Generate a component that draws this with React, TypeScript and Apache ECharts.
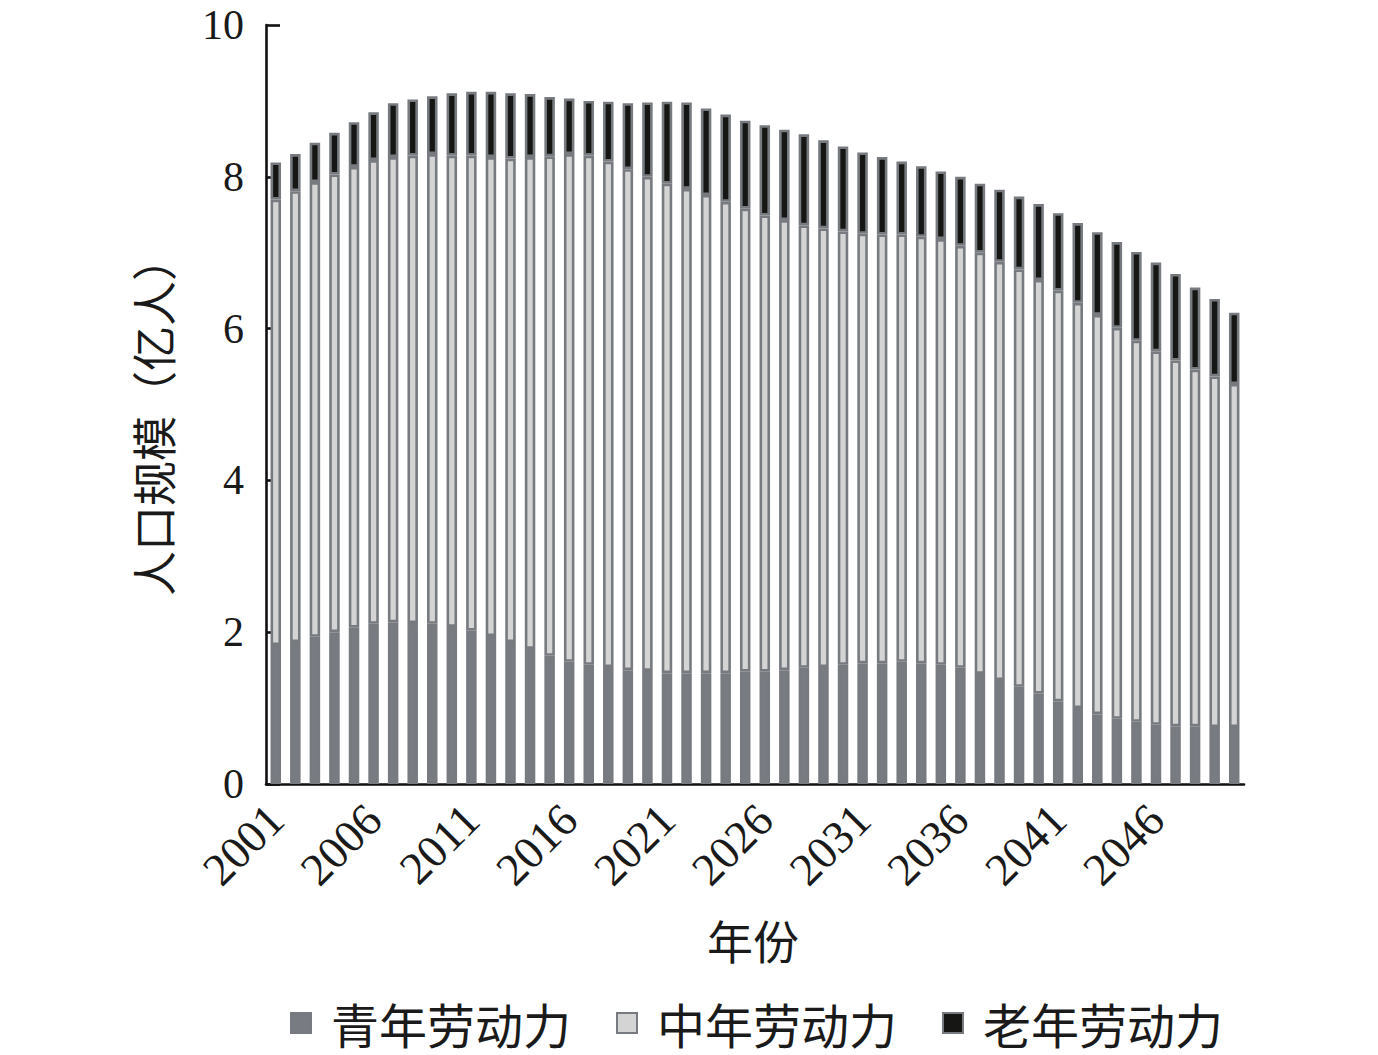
import React, { useEffect, useRef } from "react";
import * as echarts from "echarts";

const years: string[] = [];
for (let y = 2001; y <= 2050; y++) years.push(String(y));

const youth = [
  1.83, 1.87, 1.94, 2.0, 2.06, 2.11, 2.13, 2.12, 2.11, 2.07,
  2.02, 1.95, 1.87, 1.78, 1.69, 1.61, 1.57, 1.54, 1.5, 1.49,
  1.46, 1.46, 1.46, 1.46, 1.48, 1.48, 1.5, 1.53, 1.54, 1.57,
  1.59, 1.59, 1.61, 1.59, 1.57, 1.53, 1.45, 1.37, 1.28, 1.19,
  1.09, 1.0, 0.92, 0.86, 0.82, 0.78, 0.76, 0.76, 0.75, 0.75,
];
const middle = [
  5.87, 5.94, 5.99, 6.03, 6.07, 6.11, 6.13, 6.16, 6.19, 6.21,
  6.26, 6.31, 6.37, 6.48, 6.58, 6.69, 6.71, 6.66, 6.6, 6.51,
  6.45, 6.38, 6.3, 6.21, 6.1, 6.01, 5.93, 5.83, 5.78, 5.71,
  5.66, 5.65, 5.63, 5.62, 5.61, 5.56, 5.55, 5.51, 5.5, 5.45,
  5.41, 5.34, 5.26, 5.15, 5.02, 4.92, 4.82, 4.7, 4.62, 4.52,
];
const old = [
  0.49, 0.49, 0.52, 0.55, 0.59, 0.63, 0.71, 0.74, 0.76, 0.82,
  0.84, 0.86, 0.86, 0.83, 0.78, 0.73, 0.72, 0.79, 0.87, 0.98,
  1.08, 1.14, 1.14, 1.15, 1.16, 1.19, 1.19, 1.2, 1.16, 1.12,
  1.07, 1.02, 0.96, 0.93, 0.89, 0.91, 0.91, 0.95, 0.96, 1.0,
  1.02, 1.05, 1.09, 1.13, 1.17, 1.17, 1.14, 1.08, 1.02, 0.94,
];

const seriesNames = ["青年劳动力", "中年劳动力", "老年劳动力"];
const seriesColors = ["#787c82", "#d4d4d4", "#161714"];
const yTicks = { min: 0, max: 10, interval: 2 };
const yName = "人口规模（亿人）";
const xName = "年份";

const BORDER = "#777b80";
const SERIF = "'Liberation Serif', 'Times New Roman', serif";
const CJK = "'Noto Sans CJK SC', sans-serif";

export default function App() {
  const ref = useRef<HTMLDivElement>(null);
  useEffect(() => {
    if (!ref.current) return;
    const chart = echarts.init(ref.current, undefined, { renderer: "svg" });
    const data = [youth, middle, old];
    chart.setOption({
      animation: false,
      backgroundColor: "#ffffff",
      grid: { left: 266, top: 25, width: 978, height: 759 },
      xAxis: {
        type: "category",
        data: years,
        boundaryGap: true,
        axisLine: { lineStyle: { color: "#111", width: 2.6 } },
        axisTick: { inside: true, length: 13, interval: 4, lineStyle: { color: "#111", width: 2.6 } },
        axisLabel: {
          interval: 4,
          rotate: 45,
          margin: 28,
          fontFamily: SERIF,
          fontSize: 46,
          color: "#1a1a1a",
        },
      },
      yAxis: {
        type: "value",
        min: yTicks.min,
        max: yTicks.max,
        interval: yTicks.interval,
        splitLine: { show: false },
        axisLine: { show: true, lineStyle: { color: "#111", width: 2.6 } },
        axisTick: { show: true, inside: true, length: 14, lineStyle: { color: "#111", width: 2.6 } },
        axisLabel: { margin: 22, fontFamily: SERIF, fontSize: 42, color: "#1a1a1a" },
      },
      legend: {
        left: 290,
        top: 999,
        padding: 0,
        itemWidth: 20,
        itemHeight: 20,
        itemGap: 45,
        icon: "rect",
        itemStyle: { borderColor: BORDER, borderWidth: 2 },
        textStyle: {
          fontFamily: CJK,
          fontSize: 48,
          lineHeight: 48,
          color: "#1a1a1a",
          padding: [0, 0, 0, 15],
        },
        data: seriesNames,
      },
      graphic: [
        {
          type: "text",
          x: 152,
          y: 416,
          rotation: Math.PI / 2,
          style: {
            text: yName,
            fontFamily: CJK,
            fontSize: 45,
            fill: "#1a1a1a",
            align: "center",
            verticalAlign: "middle",
          },
        },
        {
          type: "text",
          x: 753,
          y: 939,
          style: {
            text: xName,
            fontFamily: CJK,
            fontSize: 46,
            fill: "#1a1a1a",
            align: "center",
            verticalAlign: "middle",
          },
        },
      ],
      series: seriesNames.map((name, i) => ({
        name,
        type: "bar",
        stack: "total",
        barWidth: 10.5,
        data: data[i],
        itemStyle: { color: seriesColors[i], borderColor: BORDER, borderWidth: 2.6 },
      })),
    });
    return () => chart.dispose();
  }, []);
  return (
    <div
      ref={ref}
      style={{ position: "absolute", left: 0, top: 0, width: 1378, height: 1055 }}
    />
  );
}
